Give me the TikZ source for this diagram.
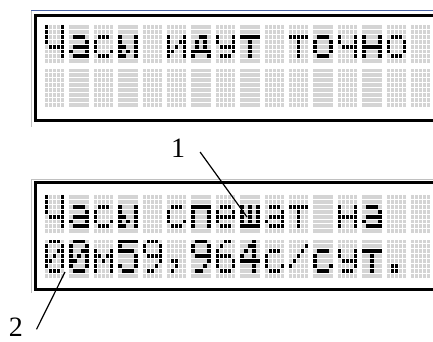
\documentclass[tikz,border=0pt]{standalone}
\usepackage{fontspec}
\setmainfont{Liberation Serif}
\definecolor{lcdoff}{RGB}{212,212,212}
\definecolor{winblue}{RGB}{72,98,165}
\definecolor{wingrey}{RGB}{192,192,192}

% 5x7 glyphs of the LCD character generator (rows top to bottom)
\newcommand\defglyph[2]{\expandafter\def\csname lcdg-#1\endcsname{#2}}
\defglyph{sp}{00000,00000,00000,00000,00000,00000,00000}
\defglyph{CH}{10001,10001,10001,10001,01111,00001,00001}
\defglyph{a}{00000,00000,01110,00001,01111,10001,01111}
\defglyph{s}{00000,00000,01110,10000,10000,10001,01110}
\defglyph{yy}{00000,00000,10001,10001,11001,10101,11001}
\defglyph{i}{00000,00000,10001,10011,10101,11001,10001}
\defglyph{d}{00000,00000,00110,01010,01010,11111,10001}
\defglyph{u}{00000,00000,10001,10001,01111,00001,01110}
\defglyph{t}{00000,00000,11111,00100,00100,00100,00100}
\defglyph{o}{00000,00000,01110,10001,10001,10001,01110}
\defglyph{ch}{00000,00000,10001,10001,01111,00001,00001}
\defglyph{n}{00000,00000,10001,10001,11111,10001,10001}
\defglyph{e}{00000,00000,01110,10001,11111,10000,01110}
\defglyph{p}{00000,00000,11111,10001,10001,10001,10001}
\defglyph{sh}{00000,00000,10101,10101,10101,10101,11111}
\defglyph{m}{00000,00000,10001,11011,10101,10001,10001}
\defglyph{d0}{01110,10001,10011,10101,11001,10001,01110}
\defglyph{d4}{00010,00110,01010,10010,11111,00010,00010}
\defglyph{d5}{11111,10000,11110,00001,00001,10001,01110}
\defglyph{d6}{00110,01000,10000,11110,10001,10001,01110}
\defglyph{d9}{01110,10001,10001,01111,00001,00010,01100}
\defglyph{comma}{00000,00000,00000,00000,01100,00100,01000}
\defglyph{slash}{00000,00001,00010,00100,01000,10000,00000}
\defglyph{dot}{00000,00000,00000,00000,00000,01100,01100}

\newcommand\lcddot[2]{%
  \ifnum#2=1 \def\dotcol{black}\else\def\dotcol{lcdoff}\fi
  \fill[fill=\dotcol] (\lcdx+#1*4,\lcdy+\dotrow*4.9) rectangle ++(3.3,3.9);}
\newcommand\lcdbits[5]{\lcddot0#1\lcddot1#2\lcddot2#3\lcddot3#4\lcddot4#5}
\newcommand\lcdcell[3]{%
  \def\lcdx{#1}\def\lcdy{#2}%
  \edef\glyphlist{\csname lcdg-#3\endcsname,00000}%
  \foreach \rowbits [count=\dotrow from 0] in \glyphlist {\expandafter\lcdbits\rowbits}}
\newcommand\lcdline[2]{%
  \foreach \g [count=\ci from 0] in {#2} {%
    \pgfmathsetmacro\lcdcx{45+\ci*24.4}%
    \lcdcell{\lcdcx}{#1}{\g}}}

\begin{document}
\begin{tikzpicture}[x=1pt,y=-1pt,
    frame/.style={line width=3pt},
    callout/.style={font=\fontsize{28}{28}\selectfont,inner xsep=12pt,inner ysep=0pt},
    leader/.style={line width=1.2pt}]
  \useasboundingbox (0,0) rectangle (433,341);

  % upper display
  \draw[winblue,line width=1.5pt] (31,10.5) -- (433,10.5);
  \draw[wingrey,line width=1pt] (31.5,11) -- (31.5,127);
  \draw[frame] (433,15) -- (35.5,15) -- (35.5,120) -- (433,120);
  \lcdline{25}{CH,a,s,yy,sp,i,d,u,t,sp,t,o,ch,n,o,sp}
  \lcdline{68.5}{sp,sp,sp,sp,sp,sp,sp,sp,sp,sp,sp,sp,sp,sp,sp,sp}

  % lower display
  \draw[wingrey,line width=1pt] (31.5,293) -- (31.5,179.5) -- (433,179.5);
  \draw[frame] (433,182.5) -- (35.5,182.5) -- (35.5,289.5) -- (433,289.5);
  \lcdline{195}{CH,a,s,yy,sp,s,p,e,sh,a,t,sp,n,a,sp,sp}
  \lcdline{239.5}{d0,d0,m,d5,d9,comma,d9,d6,d4,s,slash,s,u,t,dot,sp}

  % callouts
  \node[callout] (lbl1) at (178,148) {1};
  \node[callout] (lbl2) at (16,327) {2};
  \coordinate (tip1) at (247,217);
  \coordinate (tip2) at (65,272);
  \draw[leader,shorten <=5pt] (lbl1.east) -- (tip1);
  \draw[leader,shorten <=3pt] ([yshift=-5pt]lbl2.east) -- (tip2);
\end{tikzpicture}
\end{document}
